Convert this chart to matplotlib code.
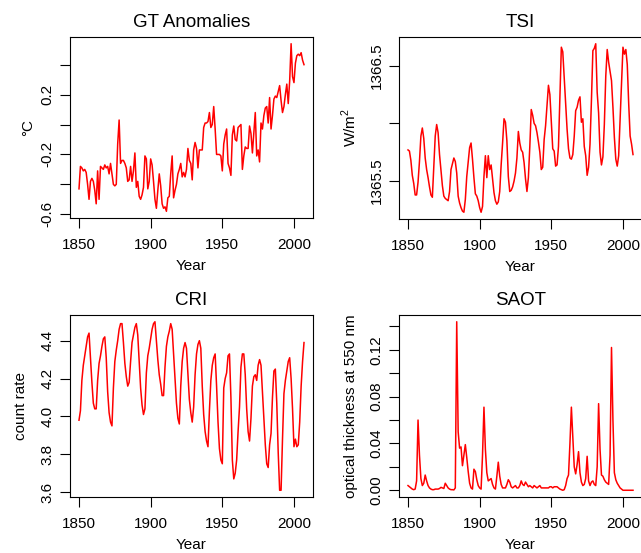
import numpy as np
import matplotlib
matplotlib.use("Agg")
import matplotlib.pyplot as plt

plt.rcParams['font.family'] = ['Liberation Sans', 'DejaVu Sans']
plt.rcParams['mathtext.fontset'] = 'custom'
plt.rcParams['mathtext.rm'] = 'Liberation Sans'
plt.rcParams['axes.unicode_minus'] = False

years = np.arange(1850, 2008)

# global temperature anomalies (deg C)
gt = [-0.43, -0.28, -0.29, -0.31, -0.30, -0.32, -0.40, -0.50, -0.38, -0.36,
      -0.38, -0.44, -0.53, -0.31, -0.50, -0.28, -0.29, -0.30, -0.27, -0.29,
      -0.28, -0.33, -0.26, -0.33, -0.40, -0.41, -0.40, -0.13, 0.03, -0.26,
      -0.24, -0.24, -0.26, -0.29, -0.38, -0.37, -0.28, -0.38, -0.31, -0.19,
      -0.42, -0.38, -0.48, -0.50, -0.47, -0.42, -0.21, -0.23, -0.43, -0.38,
      -0.23, -0.27, -0.38, -0.50, -0.56, -0.44, -0.33, -0.41, -0.53, -0.56,
      -0.55, -0.58, -0.49, -0.48, -0.33, -0.21, -0.49, -0.44, -0.40, -0.33,
      -0.30, -0.26, -0.35, -0.32, -0.35, -0.30, -0.16, -0.24, -0.26, -0.37,
      -0.17, -0.12, -0.16, -0.29, -0.17, -0.17, -0.17, -0.02, 0.01, 0.01,
      0.02, 0.08, -0.02, 0.00, 0.12, -0.03, -0.20, -0.20, -0.20, -0.21,
      -0.31, -0.13, -0.07, -0.03, -0.26, -0.29, -0.34, -0.07, -0.01, -0.10,
      -0.11, -0.02, -0.01, 0.00, -0.30, -0.21, -0.15, -0.16, -0.16, -0.01,
      -0.06, -0.19, -0.06, 0.08, -0.21, -0.17, -0.25, 0.01, -0.03, 0.06,
      0.11, 0.12, 0.01, 0.18, -0.03, 0.06, 0.17, 0.19, 0.18, 0.22,
      0.26, 0.16, 0.08, 0.12, 0.20, 0.27, 0.14, 0.29, 0.54, 0.32,
      0.28, 0.41, 0.46, 0.47, 0.46, 0.48, 0.43, 0.40]

# total solar irradiance (W/m^2)
tsi = [1365.77, 1365.76, 1365.68, 1365.55, 1365.48, 1365.38, 1365.38, 1365.49, 1365.67, 1365.89,
       1365.96, 1365.87, 1365.70, 1365.60, 1365.53, 1365.45, 1365.38, 1365.36, 1365.63, 1365.89,
       1365.99, 1365.92, 1365.73, 1365.60, 1365.46, 1365.37, 1365.35, 1365.34, 1365.33, 1365.41,
       1365.60, 1365.65, 1365.70, 1365.67, 1365.57, 1365.37, 1365.31, 1365.27, 1365.24, 1365.23,
       1365.34, 1365.54, 1365.67, 1365.79, 1365.83, 1365.69, 1365.53, 1365.39, 1365.37, 1365.33,
       1365.27, 1365.23, 1365.28, 1365.54, 1365.72, 1365.53, 1365.72, 1365.60, 1365.64, 1365.52,
       1365.40, 1365.33, 1365.30, 1365.32, 1365.41, 1365.64, 1365.83, 1366.04, 1366.01, 1365.85,
       1365.54, 1365.41, 1365.42, 1365.45, 1365.50, 1365.57, 1365.70, 1365.93, 1365.83, 1365.77,
       1365.75, 1365.66, 1365.52, 1365.41, 1365.53, 1365.80, 1366.12, 1366.07, 1366.00, 1365.98,
       1365.92, 1365.84, 1365.75, 1365.60, 1365.62, 1365.86, 1365.98, 1366.15, 1366.33, 1366.25,
       1366.02, 1365.78, 1365.76, 1365.63, 1365.64, 1365.80, 1366.24, 1366.66, 1366.62, 1366.40,
       1366.18, 1365.95, 1365.78, 1365.70, 1365.69, 1365.73, 1365.89, 1366.11, 1366.14, 1366.20,
       1366.23, 1366.01, 1366.04, 1365.80, 1365.72, 1365.55, 1365.62, 1365.82, 1366.20, 1366.63,
       1366.65, 1366.69, 1366.27, 1366.09, 1365.75, 1365.64, 1365.71, 1365.99, 1366.41, 1366.64,
       1366.53, 1366.45, 1366.37, 1366.14, 1365.88, 1365.69, 1365.63, 1365.72, 1366.04, 1366.36,
       1366.66, 1366.60, 1366.64, 1366.51, 1366.17, 1365.89, 1365.82, 1365.73]

# cosmic ray intensity (count rate)
cri = [3.98, 4.03, 4.19, 4.27, 4.32, 4.37, 4.42, 4.44, 4.31, 4.18,
       4.07, 4.04, 4.04, 4.19, 4.28, 4.32, 4.37, 4.41, 4.42, 4.31,
       4.13, 4.02, 3.97, 3.95, 4.15, 4.29, 4.35, 4.40, 4.46, 4.49,
       4.49, 4.39, 4.28, 4.21, 4.16, 4.18, 4.29, 4.39, 4.43, 4.47,
       4.49, 4.43, 4.29, 4.15, 4.06, 4.01, 4.04, 4.23, 4.32, 4.36,
       4.41, 4.46, 4.49, 4.50, 4.40, 4.30, 4.22, 4.17, 4.11, 4.11,
       4.26, 4.37, 4.42, 4.45, 4.49, 4.46, 4.33, 4.19, 4.07, 3.99,
       3.96, 4.16, 4.29, 4.36, 4.39, 4.36, 4.22, 4.09, 4.02, 3.97,
       4.05, 4.22, 4.33, 4.38, 4.40, 4.36, 4.16, 4.01, 3.92, 3.87,
       3.84, 4.03, 4.19, 4.27, 4.31, 4.33, 4.16, 3.97, 3.83, 3.77,
       3.75, 4.15, 4.20, 4.23, 4.32, 4.33, 4.10, 3.77, 3.67, 3.70,
       3.77, 3.92, 4.05, 4.26, 4.33, 4.33, 4.22, 4.04, 3.92, 3.87,
       3.99, 4.16, 4.21, 4.22, 4.19, 4.27, 4.30, 4.27, 4.13, 3.98,
       3.85, 3.75, 3.73, 3.85, 3.91, 4.10, 4.24, 4.25, 4.07, 3.81,
       3.61, 3.61, 3.88, 4.12, 4.19, 4.24, 4.29, 4.31, 4.20, 4.04,
       3.84, 3.88, 3.84, 3.85, 3.97, 4.16, 4.29, 4.39]

# stratospheric aerosol optical thickness at 550 nm
saot = [0.004, 0.003, 0.002, 0.001, 0.0005, 0.001, 0.008, 0.060, 0.030, 0.010,
        0.004, 0.006, 0.013, 0.008, 0.004, 0.002, 0.001, 0.0005, 0.0005, 0.001,
        0.001, 0.001, 0.0015, 0.0025, 0.002, 0.0015, 0.006, 0.004, 0.002, 0.001,
        0.0005, 0.0005, 0.0003, 0.002, 0.144, 0.050, 0.036, 0.037, 0.021, 0.030,
        0.039, 0.028, 0.016, 0.006, 0.002, 0.001, 0.018, 0.016, 0.009, 0.004,
        0.002, 0.001, 0.030, 0.071, 0.035, 0.015, 0.008, 0.009, 0.010, 0.005,
        0.002, 0.001, 0.012, 0.024, 0.012, 0.005, 0.002, 0.002, 0.002, 0.005,
        0.009, 0.007, 0.003, 0.002, 0.003, 0.004, 0.002, 0.002, 0.004, 0.008,
        0.005, 0.004, 0.007, 0.005, 0.003, 0.004, 0.003, 0.002, 0.004, 0.003,
        0.002, 0.003, 0.004, 0.002, 0.002, 0.002, 0.002, 0.002, 0.002, 0.003,
        0.003, 0.002, 0.003, 0.003, 0.003, 0.002, 0.001, 0.0005, 0.0, 0.0005,
        0.004, 0.010, 0.013, 0.040, 0.071, 0.045, 0.020, 0.014, 0.022, 0.033,
        0.015, 0.007, 0.004, 0.005, 0.010, 0.029, 0.008, 0.004, 0.007, 0.008,
        0.005, 0.004, 0.020, 0.074, 0.035, 0.013, 0.012, 0.009, 0.007, 0.006,
        0.005, 0.030, 0.122, 0.060, 0.015, 0.009, 0.006, 0.004, 0.002, 0.001,
        0.0, 0.0, 0.0, 0.0, 0.0, 0.0, 0.0, 0.0]

panels = [
    (gt, "GT Anomalies", "°C", [-0.6, -0.4, -0.2, 0.0, 0.2, 0.4], ["-0.6", "", "-0.2", "", "0.2", ""]),
    (tsi, "TSI", r"W/m$^2$", [1365.5, 1366.0, 1366.5], ["1365.5", "", "1366.5"]),
    (cri, "CRI", "count rate", [3.6, 3.8, 4.0, 4.2, 4.4], ["3.6", "3.8", "4.0", "4.2", "4.4"]),
    (saot, "SAOT", "optical thickness at 550 nm",
     [0.0, 0.02, 0.04, 0.06, 0.08, 0.10, 0.12, 0.14], ["0.00", "", "0.04", "", "0.08", "", "0.12", ""]),
]

W, H = 641, 553
fig = plt.figure(figsize=(W / 100, H / 100), dpi=100)
# box positions in pixels: left, top, right, bottom
boxes = [(70, 37, 313, 218), (399, 37, 642, 219), (70, 315, 313, 497), (399, 315, 642, 497)]
# centre of the y label, pixels left of the box
ylab_off = [42, 50, 49, 48]

for (vals, title, ylab, yt, ytl), (l, t, r, b), yo in zip(panels, boxes, ylab_off):
    ax = fig.add_axes([l / W, 1 - b / H, (r - l) / W, (b - t) / H])
    ax.plot(years, vals, color='red', lw=1.1)
    ax.margins(x=0.04, y=0.04)
    ax.set_xticks([1850, 1900, 1950, 2000])
    ax.set_yticks(yt)
    ax.set_yticklabels(ytl, rotation=90, va='center')
    ax.tick_params(direction='out', length=7, width=0.8, labelsize=11, pad=7.5, color='black')
    ax.tick_params(axis='y', pad=4)
    for s in ax.spines.values():
        s.set_linewidth(0.8)
    ax.set_title(title, fontsize=13.5, pad=7)
    ax.set_xlabel("Year", fontsize=11, va='center')
    ax.xaxis.set_label_coords(0.5, -48 / (b - t))
    ax.set_ylabel(ylab, fontsize=11, va='center')
    ax.yaxis.set_label_coords(-yo / (r - l), 0.5)

fig.savefig("out.png", dpi=100)
